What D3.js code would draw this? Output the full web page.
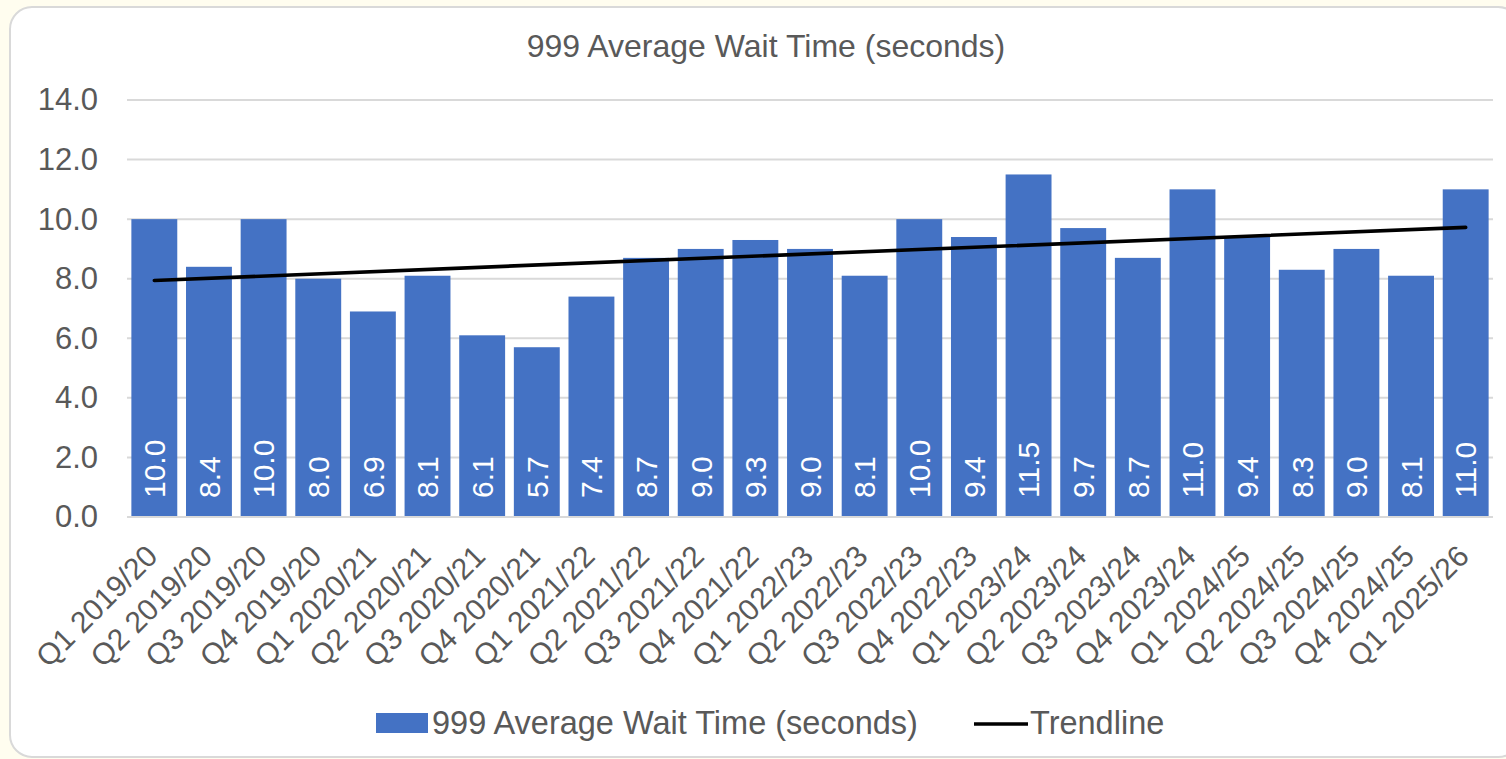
<!DOCTYPE html>
<html>
<head>
<meta charset="utf-8">
<script src="https://cdn.jsdelivr.net/npm/d3@7"></script>
<style>
  html, body { margin: 0; padding: 0; background: #fffdef; }
  svg { display: block; }
  text { font-family: "Liberation Sans", Arial, sans-serif; }
</style>
</head>
<body>
<svg id="chart" width="1506" height="759"></svg>
<script>
const categories = [
  "Q1 2019/20", "Q2 2019/20", "Q3 2019/20", "Q4 2019/20",
  "Q1 2020/21", "Q2 2020/21", "Q3 2020/21", "Q4 2020/21",
  "Q1 2021/22", "Q2 2021/22", "Q3 2021/22", "Q4 2021/22",
  "Q1 2022/23", "Q2 2022/23", "Q3 2022/23", "Q4 2022/23",
  "Q1 2023/24", "Q2 2023/24", "Q3 2023/24", "Q4 2023/24",
  "Q1 2024/25", "Q2 2024/25", "Q3 2024/25", "Q4 2024/25",
  "Q1 2025/26"
];
const waitTimes = [
  10.0, 8.4, 10.0, 8.0,
  6.9, 8.1, 6.1, 5.7,
  7.4, 8.7, 9.0, 9.3,
  9.0, 8.1, 10.0, 9.4,
  11.5, 9.7, 8.7, 11.0,
  9.4, 8.3, 9.0, 8.1,
  11.0
];
const yTicks = [0, 2, 4, 6, 8, 10, 12, 14];
const chartTitle = "999 Average Wait Time (seconds)";
const seriesName = "999 Average Wait Time (seconds)";
const trendName = "Trendline";

const svg = d3.select("#chart");
const textColor = "#595959";
const barColor = "#4472c4";
const gridColor = "#d9d9d9";

// card
svg.append("rect")
  .attr("x", 10).attr("y", 7)
  .attr("width", 1510).attr("height", 750)
  .attr("rx", 22).attr("ry", 22)
  .attr("fill", "#ffffff")
  .attr("stroke", "#d9d9d9").attr("stroke-width", 2);

const plot = { left: 127, right: 1493, top: 100, bottom: 517 };

const x = d3.scaleBand()
  .domain(categories)
  .range([plot.left, plot.right])
  .paddingInner(0.16)
  .paddingOuter(0.08);

const y = d3.scaleLinear()
  .domain([0, 14])
  .range([plot.bottom, plot.top]);

// title
svg.append("text")
  .attr("x", 766).attr("y", 57)
  .attr("text-anchor", "middle")
  .attr("fill", textColor)
  .attr("font-size", 32)
  .text(chartTitle);

// gridlines
svg.append("g")
  .selectAll("line")
  .data(yTicks.filter(d => d !== 0))
  .join("line")
  .attr("x1", plot.left).attr("x2", plot.right)
  .attr("y1", d => y(d)).attr("y2", d => y(d))
  .attr("stroke", gridColor).attr("stroke-width", 2);

// y axis labels
const yAxis = d3.axisLeft(y)
  .tickValues(yTicks)
  .tickFormat(d3.format(".1f"))
  .tickSize(0)
  .tickPadding(29);
const yg = svg.append("g")
  .attr("transform", `translate(${plot.left},0)`)
  .call(yAxis);
yg.select(".domain").remove();
yg.selectAll("text")
  .attr("fill", textColor)
  .attr("font-size", 31)
  .attr("font-family", "Liberation Sans, Arial, sans-serif");

// bars
svg.append("g")
  .selectAll("rect")
  .data(waitTimes)
  .join("rect")
  .attr("x", (d, i) => x(categories[i]))
  .attr("width", x.bandwidth())
  .attr("y", d => y(d))
  .attr("height", d => y(0) - y(d))
  .attr("fill", barColor);

// x axis line
svg.append("line")
  .attr("x1", plot.left).attr("x2", plot.right)
  .attr("y1", y(0)).attr("y2", y(0))
  .attr("stroke", gridColor).attr("stroke-width", 2);

// data labels
svg.append("g")
  .selectAll("text")
  .data(waitTimes)
  .join("text")
  .attr("transform", (d, i) => {
    const cx = x(categories[i]) + x.bandwidth() / 2;
    return `translate(${cx},${y(0) - 19}) rotate(-90)`;
  })
  .attr("dy", "0.36em")
  .attr("text-anchor", "start")
  .attr("fill", "#ffffff")
  .attr("font-size", 30)
  .text(d => d3.format(".1f")(d));

// x labels
const xAxis = d3.axisBottom(x).tickSize(0).tickPadding(0);
const xg = svg.append("g")
  .attr("transform", `translate(0,${plot.bottom})`)
  .call(xAxis);
xg.select(".domain").remove();
xg.selectAll("text")
  .attr("fill", textColor)
  .attr("font-size", 30)
  .attr("font-family", "Liberation Sans, Arial, sans-serif")
  .attr("text-anchor", "end")
  .attr("dy", null)
  .attr("y", null)
  .attr("transform", "translate(5,41) rotate(-45)");

// trendline (least squares)
const n = waitTimes.length;
const idx = d3.range(n);
const mx = d3.mean(idx), my = d3.mean(waitTimes);
const slope = d3.sum(idx, i => (i - mx) * (waitTimes[i] - my)) / d3.sum(idx, i => (i - mx) ** 2);
const intercept = my - slope * mx;
const trend = [0, n - 1].map(i => [x(categories[i]) + x.bandwidth() / 2, y(intercept + slope * i)]);
svg.append("path")
  .attr("d", d3.line()(trend))
  .attr("fill", "none")
  .attr("stroke", "#000000")
  .attr("stroke-width", 3.6)
  .attr("stroke-linecap", "round");

// legend
const lg = svg.append("g");
lg.append("rect")
  .attr("x", 376).attr("y", 713)
  .attr("width", 52).attr("height", 20)
  .attr("fill", barColor);
lg.append("text")
  .attr("x", 432).attr("y", 734)
  .attr("fill", textColor)
  .attr("font-size", 32.5)
  .text(seriesName);
lg.append("line")
  .attr("x1", 974).attr("x2", 1028)
  .attr("y1", 724).attr("y2", 724)
  .attr("stroke", "#000000").attr("stroke-width", 3.6);
lg.append("text")
  .attr("x", 1030).attr("y", 734)
  .attr("fill", textColor)
  .attr("font-size", 32.5)
  .text(trendName);
</script>
</body>
</html>
